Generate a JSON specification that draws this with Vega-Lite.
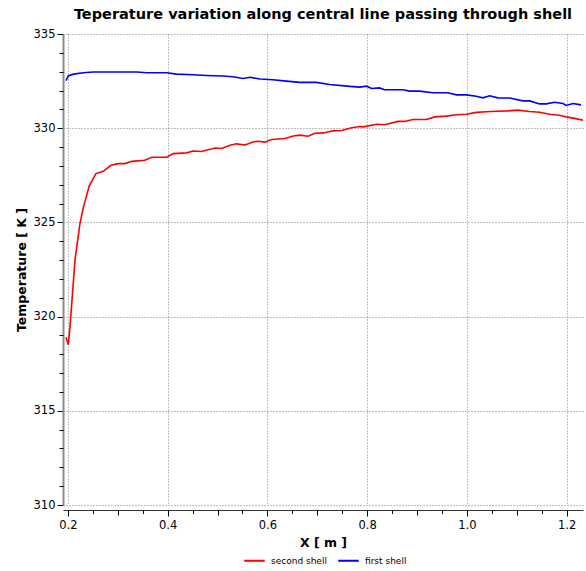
{
  "$schema": "https://vega.github.io/schema/vega-lite/v6.json",
  "autosize": {"type": "none"},
  "padding": {"left": 63, "top": 34, "right": 3, "bottom": 66},
  "width": 520,
  "height": 471,
  "background": "white",
  "title": {"text": "Teperature variation along central line passing through shell", "font": "DejaVu Sans", "fontSize": 14.5, "fontWeight": "bold", "color": "black", "anchor": "middle", "frame": "group", "offset": 6},
  "config": {"view": {"stroke": null}, "font": "DejaVu Sans"},
  "data": {"values": [
    {"x": 0.196, "temperature": 318.90, "shell": "second shell"},
    {"x": 0.2006, "temperature": 318.51, "shell": "second shell"},
    {"x": 0.204, "temperature": 319.43, "shell": "second shell"},
    {"x": 0.214, "temperature": 322.98, "shell": "second shell"},
    {"x": 0.224, "temperature": 324.93, "shell": "second shell"},
    {"x": 0.231, "temperature": 325.81, "shell": "second shell"},
    {"x": 0.243, "temperature": 326.97, "shell": "second shell"},
    {"x": 0.256, "temperature": 327.59, "shell": "second shell"},
    {"x": 0.271, "temperature": 327.71, "shell": "second shell"},
    {"x": 0.286, "temperature": 328.03, "shell": "second shell"},
    {"x": 0.301, "temperature": 328.12, "shell": "second shell"},
    {"x": 0.314, "temperature": 328.12, "shell": "second shell"},
    {"x": 0.328, "temperature": 328.24, "shell": "second shell"},
    {"x": 0.354, "temperature": 328.30, "shell": "second shell"},
    {"x": 0.368, "temperature": 328.46, "shell": "second shell"},
    {"x": 0.398, "temperature": 328.46, "shell": "second shell"},
    {"x": 0.411, "temperature": 328.65, "shell": "second shell"},
    {"x": 0.438, "temperature": 328.69, "shell": "second shell"},
    {"x": 0.451, "temperature": 328.79, "shell": "second shell"},
    {"x": 0.468, "temperature": 328.76, "shell": "second shell"},
    {"x": 0.495, "temperature": 328.95, "shell": "second shell"},
    {"x": 0.508, "temperature": 328.92, "shell": "second shell"},
    {"x": 0.525, "temperature": 329.10, "shell": "second shell"},
    {"x": 0.538, "temperature": 329.17, "shell": "second shell"},
    {"x": 0.555, "temperature": 329.11, "shell": "second shell"},
    {"x": 0.571, "temperature": 329.27, "shell": "second shell"},
    {"x": 0.581, "temperature": 329.31, "shell": "second shell"},
    {"x": 0.595, "temperature": 329.26, "shell": "second shell"},
    {"x": 0.608, "temperature": 329.40, "shell": "second shell"},
    {"x": 0.635, "temperature": 329.45, "shell": "second shell"},
    {"x": 0.652, "temperature": 329.59, "shell": "second shell"},
    {"x": 0.665, "temperature": 329.63, "shell": "second shell"},
    {"x": 0.682, "temperature": 329.57, "shell": "second shell"},
    {"x": 0.695, "temperature": 329.73, "shell": "second shell"},
    {"x": 0.712, "temperature": 329.75, "shell": "second shell"},
    {"x": 0.732, "temperature": 329.86, "shell": "second shell"},
    {"x": 0.749, "temperature": 329.88, "shell": "second shell"},
    {"x": 0.769, "temperature": 330.02, "shell": "second shell"},
    {"x": 0.785, "temperature": 330.09, "shell": "second shell"},
    {"x": 0.792, "temperature": 330.07, "shell": "second shell"},
    {"x": 0.819, "temperature": 330.21, "shell": "second shell"},
    {"x": 0.835, "temperature": 330.18, "shell": "second shell"},
    {"x": 0.862, "temperature": 330.36, "shell": "second shell"},
    {"x": 0.875, "temperature": 330.36, "shell": "second shell"},
    {"x": 0.892, "temperature": 330.46, "shell": "second shell"},
    {"x": 0.919, "temperature": 330.46, "shell": "second shell"},
    {"x": 0.936, "temperature": 330.60, "shell": "second shell"},
    {"x": 0.959, "temperature": 330.64, "shell": "second shell"},
    {"x": 0.979, "temperature": 330.71, "shell": "second shell"},
    {"x": 0.999, "temperature": 330.74, "shell": "second shell"},
    {"x": 1.019, "temperature": 330.84, "shell": "second shell"},
    {"x": 1.039, "temperature": 330.87, "shell": "second shell"},
    {"x": 1.059, "temperature": 330.90, "shell": "second shell"},
    {"x": 1.082, "temperature": 330.92, "shell": "second shell"},
    {"x": 1.102, "temperature": 330.96, "shell": "second shell"},
    {"x": 1.126, "temperature": 330.89, "shell": "second shell"},
    {"x": 1.146, "temperature": 330.85, "shell": "second shell"},
    {"x": 1.166, "temperature": 330.74, "shell": "second shell"},
    {"x": 1.186, "temperature": 330.69, "shell": "second shell"},
    {"x": 1.199, "temperature": 330.60, "shell": "second shell"},
    {"x": 1.216, "temperature": 330.52, "shell": "second shell"},
    {"x": 1.233, "temperature": 330.43, "shell": "second shell"},
    {"x": 0.196, "temperature": 332.52, "shell": "first shell"},
    {"x": 0.2006, "temperature": 332.77, "shell": "first shell"},
    {"x": 0.211, "temperature": 332.87, "shell": "first shell"},
    {"x": 0.231, "temperature": 332.94, "shell": "first shell"},
    {"x": 0.251, "temperature": 332.98, "shell": "first shell"},
    {"x": 0.338, "temperature": 332.98, "shell": "first shell"},
    {"x": 0.358, "temperature": 332.94, "shell": "first shell"},
    {"x": 0.398, "temperature": 332.94, "shell": "first shell"},
    {"x": 0.418, "temperature": 332.87, "shell": "first shell"},
    {"x": 0.451, "temperature": 332.84, "shell": "first shell"},
    {"x": 0.478, "temperature": 332.80, "shell": "first shell"},
    {"x": 0.511, "temperature": 332.77, "shell": "first shell"},
    {"x": 0.531, "temperature": 332.73, "shell": "first shell"},
    {"x": 0.551, "temperature": 332.64, "shell": "first shell"},
    {"x": 0.565, "temperature": 332.70, "shell": "first shell"},
    {"x": 0.585, "temperature": 332.61, "shell": "first shell"},
    {"x": 0.611, "temperature": 332.57, "shell": "first shell"},
    {"x": 0.638, "temperature": 332.50, "shell": "first shell"},
    {"x": 0.665, "temperature": 332.43, "shell": "first shell"},
    {"x": 0.698, "temperature": 332.43, "shell": "first shell"},
    {"x": 0.725, "temperature": 332.32, "shell": "first shell"},
    {"x": 0.765, "temperature": 332.22, "shell": "first shell"},
    {"x": 0.785, "temperature": 332.18, "shell": "first shell"},
    {"x": 0.799, "temperature": 332.23, "shell": "first shell"},
    {"x": 0.809, "temperature": 332.11, "shell": "first shell"},
    {"x": 0.825, "temperature": 332.14, "shell": "first shell"},
    {"x": 0.835, "temperature": 332.04, "shell": "first shell"},
    {"x": 0.872, "temperature": 332.04, "shell": "first shell"},
    {"x": 0.885, "temperature": 331.97, "shell": "first shell"},
    {"x": 0.905, "temperature": 331.97, "shell": "first shell"},
    {"x": 0.932, "temperature": 331.88, "shell": "first shell"},
    {"x": 0.962, "temperature": 331.88, "shell": "first shell"},
    {"x": 0.979, "temperature": 331.77, "shell": "first shell"},
    {"x": 0.999, "temperature": 331.77, "shell": "first shell"},
    {"x": 1.019, "temperature": 331.70, "shell": "first shell"},
    {"x": 1.032, "temperature": 331.61, "shell": "first shell"},
    {"x": 1.046, "temperature": 331.72, "shell": "first shell"},
    {"x": 1.062, "temperature": 331.61, "shell": "first shell"},
    {"x": 1.086, "temperature": 331.60, "shell": "first shell"},
    {"x": 1.112, "temperature": 331.45, "shell": "first shell"},
    {"x": 1.126, "temperature": 331.45, "shell": "first shell"},
    {"x": 1.146, "temperature": 331.29, "shell": "first shell"},
    {"x": 1.159, "temperature": 331.29, "shell": "first shell"},
    {"x": 1.176, "temperature": 331.38, "shell": "first shell"},
    {"x": 1.193, "temperature": 331.31, "shell": "first shell"},
    {"x": 1.199, "temperature": 331.21, "shell": "first shell"},
    {"x": 1.213, "temperature": 331.31, "shell": "first shell"},
    {"x": 1.229, "temperature": 331.24, "shell": "first shell"}
  ]},
  "layer": [
    {
      "mark": {"type": "line", "strokeWidth": 1.6, "clip": true},
      "encoding": {
        "x": {"field": "x", "type": "quantitative",
          "scale": {"domain": [0.19, 1.233], "nice": false, "zero": false},
          "axis": {"orient": "bottom", "values": [0.2, 0.4, 0.6, 0.8, 1, 1.2], "title": "X [ m ]", "offset": 5,
            "grid": true, "gridColor": "#808080", "gridDash": [1, 2], "gridWidth": 1,
            "tickSize": 6, "tickColor": "black", "domainColor": "#333333", "labelFlush": false,
            "labelFont": "DejaVu Sans", "labelFontSize": 11.5, "labelColor": "black", "labelPadding": 3,
            "titleFont": "DejaVu Sans", "titleFontSize": 12.5, "titleFontWeight": "bold", "titleColor": "black", "titlePadding": 6}},
        "y": {"field": "temperature", "type": "quantitative",
          "scale": {"domain": [310, 335], "nice": false, "zero": false},
          "axis": {"orient": "left", "values": [310, 315, 320, 325, 330, 335], "title": "Temperature [ K ]",
            "grid": true, "gridColor": "#808080", "gridDash": [1, 2], "gridWidth": 1,
            "tickSize": 6, "tickColor": "black", "domainColor": "#8a8a8a", "domainWidth": 2, "labelFlush": false,
            "labelFont": "DejaVu Sans", "labelFontSize": 11.5, "labelColor": "black", "labelPadding": 2,
            "titleFont": "DejaVu Sans", "titleFontSize": 12.5, "titleFontWeight": "bold", "titleColor": "black", "titlePadding": 5}},
        "color": {"field": "shell", "type": "nominal",
          "scale": {"domain": ["second shell", "first shell"], "range": ["#ff0000", "#0000ff"]},
          "legend": {"title": null, "orient": "none", "direction": "horizontal", "legendX": 180, "legendY": 515, "padding": 0,
            "symbolType": "stroke", "symbolSize": 420, "symbolStrokeWidth": 2,
            "labelFont": "DejaVu Sans", "labelFontSize": 9, "labelColor": "black", "labelOffset": 5, "columnPadding": 7}}
      }
    },
    {
      "mark": {"type": "point", "opacity": 0},
      "encoding": {
        "x": {"field": "x", "type": "quantitative",
          "axis": {"orient": "bottom", "values": [0.3, 0.5, 0.7, 0.9, 1.1], "offset": 5, "title": null, "labels": false, "domain": false, "grid": false, "tickSize": 5, "tickColor": "black"}},
        "y": {"field": "temperature", "type": "quantitative",
          "axis": {"orient": "left", "values": [311, 312, 313, 314, 316, 317, 318, 319, 321, 322, 323, 324, 326, 327, 328, 329, 331, 332, 333, 334], "title": null, "labels": false, "domain": false, "grid": false, "tickSize": 4, "tickColor": "black"}}
      }
    },
    {
      "mark": {"type": "point", "opacity": 0},
      "encoding": {
        "x": {"field": "x", "type": "quantitative",
          "axis": {"orient": "bottom", "values": [0.25, 0.35, 0.45, 0.55, 0.65, 0.75, 0.85, 0.95, 1.05, 1.15], "offset": 5, "title": null, "labels": false, "domain": false, "grid": false, "tickSize": 3.5, "tickColor": "black"}},
        "y": {"field": "temperature", "type": "quantitative", "axis": null}
      }
    }
  ],
  "resolve": {"axis": {"x": "independent", "y": "independent"}}
}
